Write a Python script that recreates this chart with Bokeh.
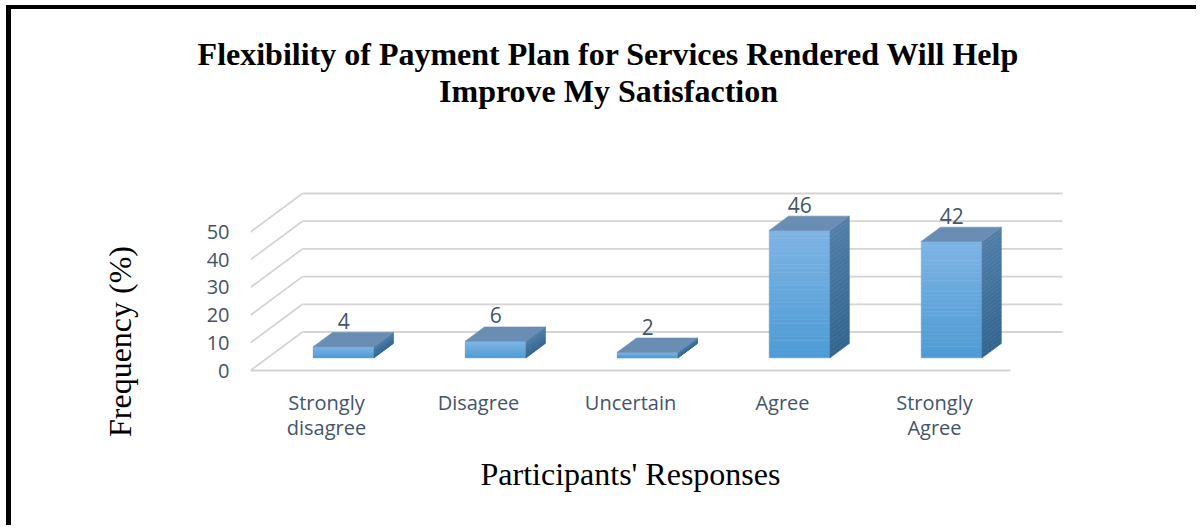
import numpy as np
from bokeh.plotting import figure
from bokeh.models import Range1d, FixedTicker
from bokeh.core.properties import value
from bokeh.embed import file_html
from bokeh.resources import INLINE

# ---------------- data ----------------
categories = ["Strongly\ndisagree", "Disagree", "Uncertain", "Agree", "Strongly\nAgree"]
frequencies = [4, 6, 2, 46, 42]
y_ticks = [0, 10, 20, 30, 40, 50]
title_lines = ["Flexibility of Payment Plan for Services Rendered Will Help",
               "Improve My Satisfaction"]
x_title = "Participants' Responses"
y_title = "Frequency (%)"

# ---------------- page geometry ----------------
MX, MY = 6, 5              # page margins of the framed block
BL, BT = 5, 4              # left / top border widths
OX, OY = MX + BL, MY + BT  # content origin on the page
W = 1190                   # canvas width
TH = 154                   # title canvas height
H2 = 366                   # chart height
PFL, PFR, PFT, PFB = 250, 1070, 185, 497   # chart frame, page coords
PZERO = 370                # page y of value 0 on the front plane
C_TOP = MY + TH            # effective page y where chart canvas starts

PX_X = 152.0          # pixels per category
PX_Y = 2.77           # pixels per percent
DX = 52.0 / PX_X      # full depth shift (x units)
DY = 38.5 / PX_Y      # full depth shift (y units)
D_FRONT, D_BACK = 0.33, 0.70
BAR_W = 0.40
N = len(categories)
x0 = -0.5
x1 = x0 + N

TXT = "#44546A"
GRID = "#d4d4d4"

# ---------------- title strip ----------------
t = figure(width=W, height=TH, output_backend="svg", toolbar_location=None,
           x_range=Range1d(0, W), y_range=Range1d(TH, 0),
           x_axis_location=None, y_axis_location=None,
           min_border=0, background_fill_color="white", border_fill_color="white")
t.outline_line_color = None
t.grid.visible = False
tx = 608 - OX
t.text(x=[tx, tx], y=[53 - OY, 90 - OY], text=title_lines,
       text_align="center", text_baseline="middle",
       text_font=value("Liberation Serif"), text_font_style="bold",
       text_font_size="32px", text_color="black")
t.styles = {"margin-left": "%dpx" % MX, "margin-top": "%dpx" % MY,
            "border-left": "%dpx solid black" % BL, "border-top": "%dpx solid black" % BT}

# ---------------- chart ----------------
FL, FR = PFL - OX, PFR - OX
FT, FB = PFT - C_TOP, PFB - C_TOP
p = figure(width=W, height=H2, output_backend="svg", toolbar_location=None,
           title=None,
           x_range=Range1d(x0, x0 + (PFR - PFL) / PX_X),
           y_range=Range1d((PZERO - PFB) / PX_Y, (PZERO - PFT) / PX_Y),
           x_axis_location=None,
           min_border_left=FL, min_border_right=W - FR,
           min_border_top=FT, min_border_bottom=H2 - FB,
           background_fill_color="white", border_fill_color="white")
p.outline_line_color = None
p.grid.visible = False
p.styles = {"margin-left": "%dpx" % MX, "border-left": "%dpx solid black" % BL}

ya = p.yaxis[0]
ya.ticker = FixedTicker(ticks=y_ticks)
ya.axis_line_color = None
ya.major_tick_line_color = None
ya.minor_tick_line_color = None
ya.major_tick_out = 0
ya.major_tick_in = 0
ya.major_label_standoff = 21
ya.major_label_text_font = "Open Sans"
ya.major_label_text_font_size = "20px"
ya.major_label_text_color = TXT
ya.axis_label = y_title
ya.axis_label_text_font = "Liberation Serif"
ya.axis_label_text_font_style = "normal"
ya.axis_label_text_font_size = "32px"
ya.axis_label_text_color = "black"
ya.axis_label_standoff = 66

# walls / gridlines
back_xs = [[x0 + DX, x1 + DX] for _ in y_ticks]
back_ys = [[v + DY, v + DY] for v in y_ticks]
side_xs = [[x0, x0 + DX] for _ in y_ticks]
side_ys = [[v, v + DY] for v in y_ticks]
p.multi_line(back_xs, back_ys, line_color=GRID, line_width=1.8)
p.multi_line(side_xs, side_ys, line_color=GRID, line_width=1.8)
p.line([x0, x1], [0, 0], line_color=GRID, line_width=1.8)

# 3D bars
NS = 30
front_l, front_r, front_b, front_t, front_c = [], [], [], [], []
side_xs_b, side_ys_b, side_c = [], [], []
top_xs, top_ys = [], []

def mix(c1, c2, f):
    a = [int(c1[i:i + 2], 16) for i in (1, 3, 5)]
    b = [int(c2[i:i + 2], 16) for i in (1, 3, 5)]
    return "#%02x%02x%02x" % tuple(int(round(a[k] + (b[k] - a[k]) * f)) for k in range(3))

ddx = DX * (D_BACK - D_FRONT)
ddy = DY * (D_BACK - D_FRONT)
for i, v in enumerate(frequencies):
    xl = i + DX * D_FRONT - BAR_W / 2
    xr = xl + BAR_W
    yb = DY * D_FRONT
    for s in range(NS):
        f0, f1 = s / NS, (s + 1) / NS
        ylo, yhi = yb + v * f0, yb + v * f1
        fc = 1 - (f0 + f1) / 2  # 0 at top
        front_l.append(xl); front_r.append(xr)
        front_b.append(ylo); front_t.append(yhi)
        front_c.append(mix("#7fb4e4", "#4d9bd5", fc))
        side_xs_b.append([xr, xr, xr + ddx, xr + ddx])
        side_ys_b.append([ylo, yhi, yhi + ddy, ylo + ddy])
        side_c.append(mix("#517ea8", "#32658f", fc))
    top_xs.append([xl, xr, xr + ddx, xl + ddx])
    top_ys.append([yb + v, yb + v, yb + v + ddy, yb + v + ddy])

p.quad(left=front_l, right=front_r, bottom=front_b, top=front_t,
       fill_color=front_c, line_color=front_c, line_width=0.6)
p.patches(side_xs_b, side_ys_b, fill_color=side_c, line_color=side_c, line_width=0.6)
p.patches(top_xs, top_ys, fill_color="#6a8db4", line_color="#6a8db4", line_width=0.6)

# data labels
lab_x = [i + DX * D_FRONT for i in range(N)]
lab_y = [v + DY * D_BACK for v in frequencies]
p.text(x=lab_x, y=lab_y, text=[str(v) for v in frequencies],
       text_align="center", text_baseline="middle", y_offset=-11.5,
       text_font=value("Open Sans"), text_font_size="21px", text_color=TXT)

# category labels
p.text(x=list(range(N)), y=[-6.5] * N, text=categories,
       text_align="center", text_baseline="top", text_line_height=0.94,
       text_font=value("Open Sans"), text_font_size="20px", text_color=TXT)

# x title
p.text(x=[(x0 + x1) / 2], y=[(PZERO - 473) / PX_Y], text=[x_title],
       text_align="center", text_baseline="middle",
       text_font=value("Liberation Serif"), text_font_size="32px", text_color="black")

open("out.html", "w").write(file_html([t, p], INLINE))
